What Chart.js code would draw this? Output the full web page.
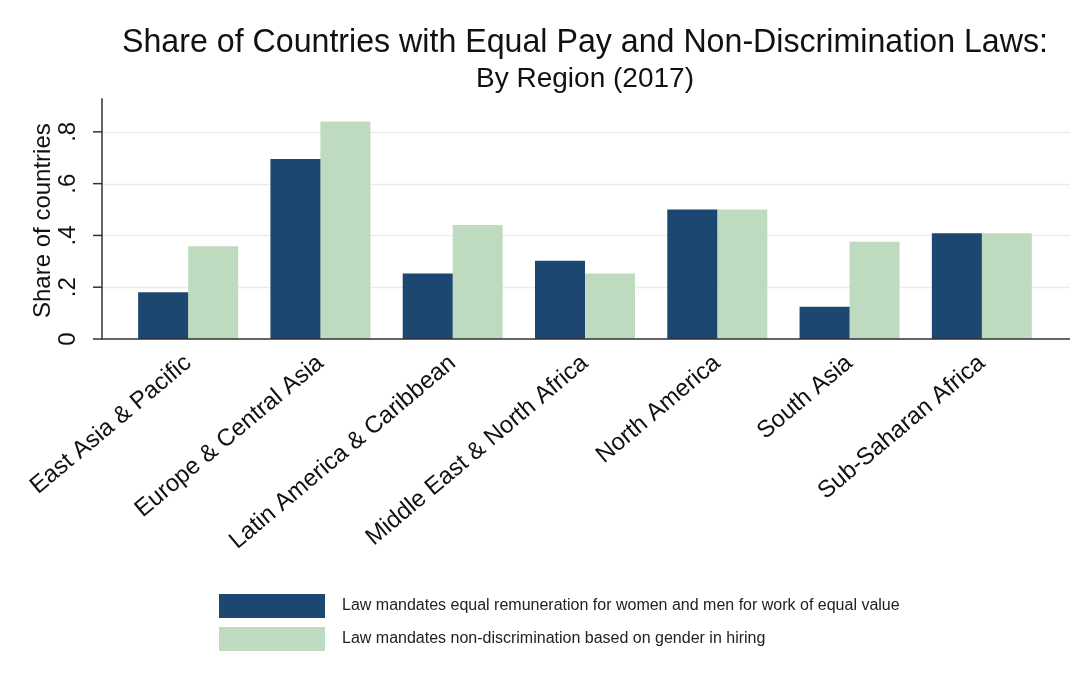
<!DOCTYPE html>
<html>
<head>
<meta charset="utf-8">
<script src="https://cdn.jsdelivr.net/npm/chart.js@4/dist/chart.umd.min.js"></script>
<style>
  html, body { margin: 0; padding: 0; background: #fff; }
  #box { width: 1088px; height: 688px; }
</style>
</head>
<body>
<div id="box"><canvas id="grafico"></canvas></div>
<script>
// dados
const regioes = ['East Asia & Pacific', 'Europe & Central Asia', 'Latin America & Caribbean',
  'Middle East & North Africa', 'North America', 'South Asia', 'Sub-Saharan Africa'];
const igualdadeSalarial = [0.181, 0.695, 0.253, 0.302, 0.5, 0.125, 0.408];
const naoDiscriminacao = [0.358, 0.84, 0.44, 0.253, 0.5, 0.376, 0.408];
const ticksY = [0, 0.2, 0.4, 0.6, 0.8];
const rotulosY = ['0', '.2', '.4', '.6', '.8'];

const fonte = '"Liberation Sans", Arial, sans-serif';

// eixo Y, grade e legenda desenhados à moda do Stata
const estiloStata = {
  id: 'estiloStata',
  beforeDatasetsDraw(chart) {
    const ctx = chart.ctx;
    const y = chart.scales.y;
    const esq = 102, dir = 1070;
    ctx.save();
    ctx.strokeStyle = '#ececec';
    ctx.lineWidth = 1.5;
    ticksY.forEach(v => {
      if (v === 0) return;
      const py = Math.round(y.getPixelForValue(v)) + 0.5;
      ctx.beginPath(); ctx.moveTo(esq, py); ctx.lineTo(dir, py); ctx.stroke();
    });
    ctx.restore();
  },
  afterDraw(chart) {
    const ctx = chart.ctx;
    const y = chart.scales.y;
    const area = chart.chartArea;
    const esq = 102, dir = 1070;
    ctx.save();
    ctx.strokeStyle = '#333';
    ctx.lineWidth = 1.5;
    // eixos
    ctx.beginPath();
    ctx.moveTo(esq, area.top); ctx.lineTo(esq, area.bottom);
    ctx.lineTo(dir, area.bottom);
    ctx.stroke();
    // marcas e rótulos do eixo Y
    ctx.fillStyle = '#111';
    ctx.font = '24px ' + fonte;
    ctx.textAlign = 'center';
    ctx.textBaseline = 'middle';
    ticksY.forEach((v, i) => {
      const py = y.getPixelForValue(v);
      ctx.beginPath(); ctx.moveTo(esq - 9, py); ctx.lineTo(esq, py); ctx.stroke();
      ctx.save();
      ctx.translate(68, py);
      ctx.rotate(-Math.PI / 2);
      ctx.fillText(rotulosY[i], 0, 0);
      ctx.restore();
    });
    // título do eixo Y
    ctx.save();
    ctx.translate(43, (area.top + area.bottom) / 2 + 2);
    ctx.rotate(-Math.PI / 2);
    ctx.fillText('Share of countries', 0, 0);
    ctx.restore();
    // legenda
    ctx.font = '16px ' + fonte;
    ctx.textAlign = 'left';
    chart.data.datasets.forEach((ds, i) => {
      const top = 594 + i * 33;
      ctx.fillStyle = ds.backgroundColor;
      ctx.fillRect(219, top, 106, 24);
      ctx.fillStyle = '#222';
      ctx.fillText(ds.label, 342, top + 12);
    });
    ctx.restore();
  }
};

const ctx = document.getElementById('grafico').getContext('2d');
new Chart(ctx, {
  type: 'bar',
  data: {
    labels: regioes,
    datasets: [{
      label: 'Law mandates equal remuneration for women and men for work of equal value',
      data: igualdadeSalarial,
      backgroundColor: '#1b4770'
    }, {
      label: 'Law mandates non-discrimination based on gender in hiring',
      data: naoDiscriminacao,
      backgroundColor: '#bfdbbf'
    }]
  },
  options: {
    responsive: true,
    maintainAspectRatio: false,
    animation: false,
    categoryPercentage: 0.756,
    barPercentage: 1,
    layout: { padding: { left: 122, right: 40, top: 0, bottom: 119 } },
    plugins: {
      legend: { display: false },
      tooltip: { enabled: false },
      title: {
        display: true,
        text: 'Share of Countries with Equal Pay and Non-Discrimination Laws:',
        color: '#111',
        font: { family: fonte, size: 33, weight: 'normal' },
        padding: { top: 23, bottom: 0 }
      },
      subtitle: {
        display: true,
        text: 'By Region (2017)',
        color: '#111',
        font: { family: fonte, size: 28, weight: 'normal' },
        padding: { top: 0, bottom: 2 }
      }
    },
    scales: {
      x: {
        grid: { display: false },
        border: { display: false },
        afterFit: (eixo) => { eixo.height = 230; },
        ticks: {
          color: '#111',
          minRotation: 40,
          maxRotation: 40,
          padding: 2,
          font: { family: fonte, size: 24 }
        }
      },
      y: {
        display: false,
        min: 0,
        max: 0.93
      }
    }
  },
  plugins: [estiloStata]
});
</script>
</body>
</html>
